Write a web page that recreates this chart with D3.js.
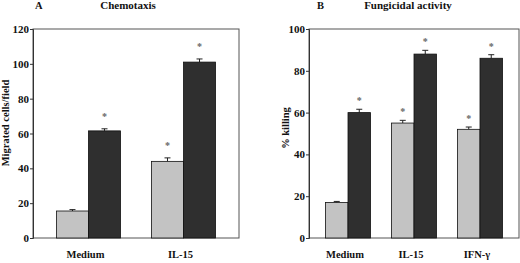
<!DOCTYPE html>
<html>
<head>
<meta charset="utf-8">
<script src="https://cdn.jsdelivr.net/npm/d3@7/dist/d3.min.js"></script>
<style>
  body { margin: 0; background: #fff; }
  svg text { font-family: "Liberation Serif", "Times New Roman", serif; font-weight: bold; fill: #111; }
</style>
</head>
<body>
<div id="chart"></div>
<script>
// Panel A - chemotaxis
var catsA = ["Medium", "IL-15"];
var lightA = [15.5, 44];
var lightErrA = [0.8, 2];
var darkA = [61.5, 101];
var darkErrA = [1.2, 1.8];
var starLightA = [false, true];
var starDarkA = [true, true];
var ticksA = [0, 20, 40, 60, 80, 100, 120];

// Panel B - fungicidal activity
var catsB = ["Medium", "IL-15", "IFN-\u03b3"];
var lightB = [17, 55, 52];
var lightErrB = [0.5, 1.3, 1.1];
var darkB = [60, 88, 86];
var darkErrB = [1.6, 1.8, 1.7];
var starLightB = [false, true, true];
var starDarkB = [true, true, true];
var ticksB = [0, 20, 40, 60, 80, 100];

var W = 520, H = 263;
var svg = d3.select("#chart").append("svg")
    .attr("width", W).attr("height", H);

var lightColor = "#c3c3c3", darkColor = "#2f2f2f";

function drawPanel(cfg) {
    var x = d3.scaleBand().domain(cfg.cats).range([cfg.left, cfg.right])
        .paddingInner(cfg.pIn).paddingOuter(cfg.pOut);
    var sub = d3.scaleBand().domain(["light", "dark"]).range([0, x.bandwidth()]);
    var y = d3.scaleLinear().domain([0, cfg.max]).range([cfg.bottom, cfg.top]);

    // frame
    svg.append("rect")
        .attr("x", cfg.left).attr("y", cfg.top)
        .attr("width", cfg.right - cfg.left).attr("height", cfg.bottom - cfg.top)
        .attr("fill", "none").attr("stroke", "#555").attr("stroke-width", 1);

    var yAxis = d3.axisLeft(y).tickValues(cfg.ticks).tickSize(3).tickPadding(1);
    var ga = svg.append("g").attr("transform", "translate(" + cfg.left + ",0)").call(yAxis);
    ga.select(".domain").attr("stroke", "#333");
    ga.selectAll(".tick line").attr("stroke", "#333");
    ga.selectAll(".tick text")
        .style("font-family", "'Liberation Serif', serif")
        .style("font-weight", "bold").style("font-size", "11px").attr("fill", "#111");

    var rows = [];
    cfg.cats.forEach(function(c, i) {
        rows.push({ cat: c, kind: "light", v: cfg.light[i], e: cfg.lightErr[i], star: cfg.starLight[i] });
        rows.push({ cat: c, kind: "dark", v: cfg.dark[i], e: cfg.darkErr[i], star: cfg.starDark[i] });
    });

    var g = svg.append("g");
    // error bars (upper only)
    g.selectAll(".err").data(rows).enter().append("path")
        .attr("d", function(d) {
            var cx = x(d.cat) + sub(d.kind) + sub.bandwidth() / 2;
            return "M" + cx + "," + y(d.v) + "V" + y(d.v + d.e) +
                "M" + (cx - 3) + "," + y(d.v + d.e) + "H" + (cx + 3);
        })
        .attr("stroke", "#222").attr("stroke-width", 1).attr("fill", "none");

    g.selectAll(".bar").data(rows).enter().append("rect")
        .attr("x", function(d) { return x(d.cat) + sub(d.kind); })
        .attr("y", function(d) { return y(d.v); })
        .attr("width", sub.bandwidth())
        .attr("height", function(d) { return cfg.bottom - y(d.v); })
        .attr("fill", function(d) { return d.kind === "light" ? lightColor : darkColor; })
        .attr("stroke", "#111").attr("stroke-width", 0.8);

    g.selectAll(".star").data(rows.filter(function(d) { return d.star; })).enter().append("text")
        .attr("x", function(d) { return x(d.cat) + sub(d.kind) + sub.bandwidth() / 2; })
        .attr("y", function(d) { return y(d.v + d.e) - cfg.starGap + 5; })
        .attr("text-anchor", "middle")
        .style("font-size", "10px").style("fill", "#666")
        .text("*");

    // category labels
    svg.selectAll(null).data(cfg.cats).enter().append("text")
        .attr("x", function(d) { return x(d) + x.bandwidth() / 2 + cfg.labShift; })
        .attr("y", 258)
        .attr("text-anchor", "middle")
        .style("font-size", "10.5px")
        .text(function(d) { return d; });

    // y title
    svg.append("text")
        .attr("transform", "translate(" + cfg.yLabX + "," + cfg.yLabY + ") rotate(-90)")
        .attr("text-anchor", "middle")
        .style("font-size", "10.5px")
        .text(cfg.yLabel);

    // panel letter + title
    svg.append("text").attr("x", cfg.letterX).attr("y", 9)
        .style("font-size", "10.5px").text(cfg.letter);
    svg.append("text").attr("x", cfg.titleX).attr("y", 9)
        .attr("text-anchor", "middle")
        .style("font-size", "11px").text(cfg.title);
}

drawPanel({
    cats: catsA, light: lightA, lightErr: lightErrA, dark: darkA, darkErr: darkErrA,
    starLight: starLightA, starDark: starDarkA, ticks: ticksA, max: 120,
    left: 33, right: 239, top: 29, bottom: 238, pIn: 0.326, pOut: 0.247,
    starGap: 14, labShift: -3,
    yLabel: "Migrated cells/field", yLabX: 9, yLabY: 123,
    letter: "A", letterX: 35, title: "Chemotaxis", titleX: 128
});

drawPanel({
    cats: catsB, light: lightB, lightErr: lightErrB, dark: darkB, darkErr: darkErrB,
    starLight: starLightB, starDark: starDarkB, ticks: ticksB, max: 100,
    left: 309, right: 519, top: 29, bottom: 238, pIn: 0.318, pOut: 0.25,
    starGap: 10, labShift: -3,
    yLabel: "% killing", yLabX: 289, yLabY: 128,
    letter: "B", letterX: 317, title: "Fungicidal activity", titleX: 408
});
</script>
</body>
</html>
